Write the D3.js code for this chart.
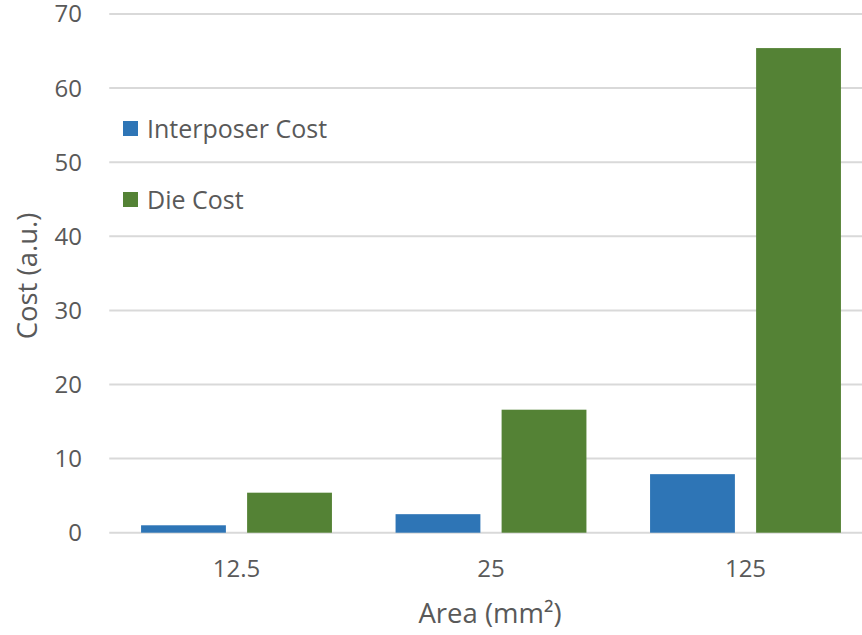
<!DOCTYPE html>
<html><head><meta charset="utf-8">
<script src="https://cdn.jsdelivr.net/npm/d3@7"></script>
<style>body{margin:0;background:#fff}svg{display:block}text{font-family:"Open Sans",sans-serif;fill:#595959}</style>
</head><body>
<svg id="c" width="862" height="635"></svg>
<script>
const categories = ["12.5", "25", "125"];
const seriesNames = ["Interposer Cost", "Die Cost"];
const interposerCost = [1.0, 2.5, 7.9];
const dieCost = [5.4, 16.6, 65.4];
const yTicks = [0, 10, 20, 30, 40, 50, 60, 70];
const colors = ["#2e75b6", "#548235"];

(function () {
const svg = d3.select("#c");
const W = 862, H = 635;
const pLeft = 109.25, pRight = 872.75, pTop = 14, pBottom = 532.7;

const x0 = d3.scaleBand().domain(categories).range([pLeft, pRight]).paddingInner(0).paddingOuter(0);
const x1 = d3.scaleBand().domain(seriesNames).range([0, x0.bandwidth()]).paddingInner(0.2).paddingOuter(0.3);
const y = d3.scaleLinear().domain([0, 70]).range([pBottom, pTop]);

// gridlines
svg.append("g").selectAll("line").data(yTicks).join("line")
  .attr("x1", pLeft).attr("x2", W)
  .attr("y1", d => y(d)).attr("y2", d => y(d))
  .attr("stroke", "#d9d9d9").attr("stroke-width", 2);

// y tick labels
svg.append("g").selectAll("text").data(yTicks).join("text")
  .attr("x", 82).attr("y", d => y(d)).attr("dy", "0.35em")
  .attr("text-anchor", "end").attr("font-size", 24).text(d => d);

// bars
const data = categories.map((c, i) => ({cat: c, vals: [interposerCost[i], dieCost[i]]}));
const g = svg.append("g").selectAll("g").data(data).join("g")
  .attr("transform", d => `translate(${x0(d.cat)},0)`);
g.selectAll("rect").data(d => d.vals.map((v, j) => ({name: seriesNames[j], v, j}))).join("rect")
  .attr("x", d => x1(d.name)).attr("width", x1.bandwidth())
  .attr("y", d => y(d.v)).attr("height", d => y(0) - y(d.v))
  .attr("fill", d => colors[d.j]);

// x tick labels
svg.append("g").selectAll("text").data(categories).join("text")
  .attr("x", d => x0(d) + x0.bandwidth() / 2).attr("y", 569).attr("dy", "0.35em")
  .attr("text-anchor", "middle").attr("font-size", 24).text(d => d);

// axis titles
svg.append("text").attr("x", 490).attr("y", 613).attr("dy", "0.35em")
  .attr("text-anchor", "middle").attr("font-size", 27.5).text("Area (mm²)");
svg.append("text").attr("transform", `translate(27,276) rotate(-90)`)
  .attr("dy", "0.35em").attr("text-anchor", "middle").attr("font-size", 27.5).text("Cost (a.u.)");

// legend
const leg = svg.append("g").selectAll("g").data(seriesNames).join("g")
  .attr("transform", (d, i) => `translate(123,${129 + i * 71})`);
leg.append("rect").attr("x", 0).attr("y", -8).attr("width", 15).attr("height", 15)
  .attr("fill", (d, i) => colors[i]);
leg.append("text").attr("x", 24).attr("y", 0).attr("dy", "0.35em")
  .attr("font-size", 25).text(d => d);
})();
</script>
</body></html>
